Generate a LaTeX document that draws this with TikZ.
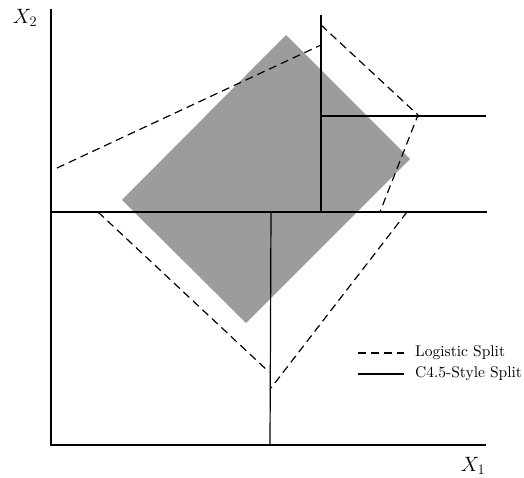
\documentclass[tikz,border=0pt]{standalone}
\usepackage{fontspec}
\setmainfont{Latin Modern Roman}
\newfontfamily\legfont{lmroman10-regular.otf}
\begin{document}
\begin{tikzpicture}[x=1pt,y=-1pt,
  axisline/.style={line width=1.4pt},
  splitline/.style={line width=1.2pt},
  logline/.style={line width=1.2pt,dash pattern=on 8pt off 5pt},
  legtext/.style={anchor=west,font=\legfont\fontsize{15.5}{18}\selectfont,inner sep=0pt},
  axlabel/.style={font=\fontsize{21}{24}\selectfont,inner sep=0pt}]
\useasboundingbox (0,0) rectangle (524,478);
% region
\fill[gray!78] (286,35) -- (410,159) -- (246,323) -- (122,200) -- cycle;
% axes
\coordinate (O) at (51,445);
\coordinate (ytop) at (51,9);
\coordinate (xend) at (486,445);
\draw[axisline] (ytop) -- (O) -- (xend);
% C4.5 splits
\coordinate (h1a) at (51,212);
\coordinate (h1b) at (487,212);
\coordinate (v1a) at (321,15);
\coordinate (v1b) at (321,212);
\coordinate (h2a) at (321,116);
\coordinate (h2b) at (486,116);
\coordinate (v2a) at (271,212);
\coordinate (v2b) at (270,445);
\draw[splitline] (h1a) -- (h1b);
\draw[splitline] (v1a) -- (v1b);
\draw[splitline] (h2a) -- (h2b);
\draw[splitline] (v2a) -- (v2b);
% logistic splits
\coordinate (d1a) at (57,168);
\coordinate (d1b) at (321,45);
\coordinate (d2a) at (321,25);
\coordinate (d2b) at (418,115);
\coordinate (d2c) at (380,212);
\coordinate (d3a) at (98,212);
\coordinate (d3b) at (269,372);
\coordinate (d4a) at (407,212);
\coordinate (d4b) at (271,388);
\draw[logline] (d1a) -- (d1b);
\draw[logline] (d2a) -- (d2b) -- (d2c);
\draw[logline] (d3a) -- (d3b);
\draw[logline] (d4a) -- (d4b);
% labels
\node[axlabel] (lx2) at (25,18) {$X_2$};
\node[axlabel] (lx1) at (473,466) {$X_1$};
% legend
\coordinate (la) at (358,353);
\coordinate (lb) at (404,353);
\coordinate (lc) at (358,374);
\coordinate (ld) at (404,374);
\draw[logline] (la) -- (lb);
\draw[splitline] (lc) -- (ld);
\node[legtext] (t1) at (415,353) {Logistic Split};
\node[legtext] (t2) at (415,374) {C4.5-Style Split};
\end{tikzpicture}
\end{document}
